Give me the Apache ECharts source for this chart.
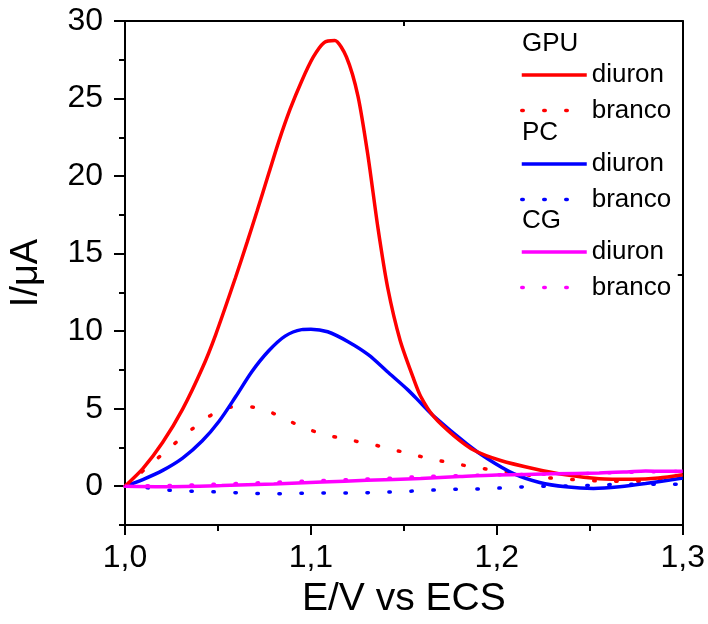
<!DOCTYPE html>
<html>
<head>
<meta charset="utf-8">
<script src="https://cdn.jsdelivr.net/npm/echarts@6/dist/echarts.min.js"></script>
<style>html,body{margin:0;padding:0;background:#fff;}#c{width:708px;height:624px;}</style>
</head>
<body>
<div id="c"></div>
<script>
// ---- data ----
const xTicks = [1.0, 1.1, 1.2, 1.3];
const yTicks = [0, 5, 10, 15, 20, 25, 30];

const gpuDiuronX = [1.000,1.0096,1.0203,1.031,1.0416,1.0487,1.0594,1.0657,1.071,1.0773,1.0826,1.0888,1.095,1.1013,1.1071,1.1128,1.1191,1.1253,1.1307,1.136,1.1413,1.148,1.155,1.159,1.166,1.177,1.188,1.202,1.220,1.237,1.255,1.273,1.287,1.300];
const gpuDiuronY = [0.0,1.13,2.83,4.97,7.62,9.75,13.44,15.74,17.73,20.16,22.19,24.31,26.12,27.68,28.61,28.74,27.68,25.16,21.3,16.7,12.8,9.4,7.0,5.8,4.5,3.25,2.3,1.66,1.13,0.74,0.49,0.45,0.53,0.74];

const pcDiuronX = [1.000,1.0096,1.0203,1.031,1.0416,1.0506,1.0594,1.0683,1.0772,1.0861,1.095,1.100,1.109,1.120,1.131,1.141,1.152,1.159,1.166,1.184,1.195,1.209,1.223,1.237,1.252,1.266,1.280,1.300];
const pcDiuronY = [0.0,0.43,1.02,1.81,2.93,4.19,5.75,7.4,8.72,9.68,10.1,10.13,9.96,9.32,8.47,7.4,6.23,5.38,4.53,2.72,1.77,0.81,0.24,-0.04,-0.15,-0.04,0.17,0.53];

const gpuBrancoX = [1.000,1.012,1.024,1.036,1.048,1.060,1.072,1.084,1.096,1.108,1.120,1.132,1.143,1.155,1.167,1.179,1.191,1.203,1.215,1.227,1.239,1.251,1.262,1.275,1.286,1.299];
const gpuBrancoY = [0.0,1.23,2.47,3.68,4.7,5.15,5.04,4.47,3.78,3.32,3.0,2.72,2.4,2.03,1.7,1.42,1.17,0.96,0.75,0.55,0.45,0.36,0.32,0.32,0.36,0.6];

const pcBrancoX = [1.000,1.012,1.024,1.036,1.048,1.060,1.072,1.084,1.096,1.108,1.120,1.132,1.143,1.155,1.167,1.179,1.191,1.203,1.215,1.227,1.239,1.251,1.262,1.275,1.286,1.299];
const pcBrancoY = [0.0,-0.1,-0.26,-0.32,-0.36,-0.42,-0.47,-0.49,-0.45,-0.43,-0.43,-0.41,-0.37,-0.31,-0.24,-0.19,-0.17,-0.11,-0.04,0.0,0.02,0.06,0.11,0.13,0.13,0.13];

const cgDiuronX = [1.000,1.020,1.052,1.080,1.106,1.130,1.159,1.180,1.200,1.230,1.255,1.270,1.280,1.290,1.300];
const cgDiuronY = [0.0,-0.03,0.04,0.15,0.27,0.38,0.5,0.62,0.72,0.8,0.85,0.92,0.98,0.96,0.97];

const cgBrancoX = [1.000,1.024,1.047,1.072,1.096,1.120,1.143,1.155,1.179,1.203,1.227,1.251,1.262,1.286,1.299];
const cgBrancoY = [0.0,0.05,0.12,0.22,0.32,0.42,0.52,0.6,0.68,0.74,0.78,0.82,0.87,0.94,0.95];

const groups = ['GPU', 'PC', 'CG'];
const subLabels = ['diuron', 'branco'];

// ---- build ----
const FONT = 'Liberation Sans, Arial, sans-serif';
const zip = (xs, ys) => xs.map((x, i) => [x, ys[i]]);
const RED = '#ff0000', BLUE = '#0000ff', MAG = '#ff00ff';
const solid = c => ({ color: c, width: 3.5, type: 'solid' });
const dotted = c => ({ color: c, width: 3.5, type: [1.5, 20.5], cap: 'round' });

function mk(name, xs, ys, ls, z, sm) {
  return {
    name: name, type: 'line', data: zip(xs, ys), showSymbol: false, symbol: 'none',
    smooth: sm, lineStyle: ls, itemStyle: { color: ls.color }, z: z,
    xAxisIndex: 0, yAxisIndex: 0, animation: false
  };
}

const series = [
  mk('PC branco', pcBrancoX, pcBrancoY, dotted(BLUE), 2, 0.3),
  mk('GPU branco', gpuBrancoX, gpuBrancoY, dotted(RED), 2, 0.3),
  mk('CG branco', cgBrancoX, cgBrancoY, dotted(MAG), 2, 0.3),
  mk('PC diuron', pcDiuronX, pcDiuronY, solid(BLUE), 3, 0.3),
  mk('GPU diuron', gpuDiuronX, gpuDiuronY, solid(RED), 4, 0.25),
  mk('CG diuron', cgDiuronX, cgDiuronY, solid(MAG), 5, 0.3)
];

const legendTops = [62, 151, 239];
const headerTops = [44, 133, 221];
const legends = groups.map((g, i) => ({
  orient: 'vertical', left: 520, top: legendTops[i], padding: 0,
  itemWidth: 65, itemHeight: 20, itemGap: 9.5, selectedMode: false,
  data: subLabels.map(s => g + ' ' + s),
  formatter: n => n.split(' ')[1],
  textStyle: { fontFamily: FONT, fontSize: 26, color: '#000', lineHeight: 20 },
  itemStyle: { color: 'rgba(0,0,0,0)', borderWidth: 0, opacity: 0 },
  lineStyle: { width: 3.5 }
}));

const axisLineStyle = { color: '#000', width: 2 };
const fmtX = v => v.toFixed(1).replace('.', ',');

const option = {
  animation: false,
  backgroundColor: '#fff',
  grid: { left: 122, right: 24, top: 21, bottom: 94, containLabel: false },
  xAxis: [
    {
      type: 'value', position: 'bottom', min: 1.0, max: 1.3, interval: 0.1,
      axisLine: { show: true, onZero: false, lineStyle: axisLineStyle },
      axisTick: { show: true, inside: false, length: 10, lineStyle: { color: '#000', width: 2 }, customValues: xTicks },
      minorTick: { show: true, splitNumber: 2, length: 6, lineStyle: { color: '#000', width: 2 } },
      axisLabel: { fontFamily: FONT, fontSize: 32, color: '#000', margin: 17, formatter: fmtX, customValues: xTicks },
      splitLine: { show: false },
      name: 'E/V vs ECS', nameLocation: 'middle', nameGap: 55,
      nameTextStyle: { fontFamily: FONT, fontSize: 39, color: '#000' }
    },
    {
      type: 'value', position: 'top', min: 1.0, max: 1.3,
      axisLine: { show: true, onZero: false, lineStyle: axisLineStyle },
      axisTick: { show: true, inside: true, length: 5, lineStyle: { color: '#000', width: 2 }, customValues: [1.15] },
      axisLabel: { show: false }, splitLine: { show: false }
    }
  ],
  yAxis: [
    {
      type: 'value', position: 'left', min: -2.5, max: 30, interval: 2.5,
      axisLine: { show: true, onZero: false, lineStyle: axisLineStyle },
      axisTick: { show: true, inside: false, length: 11, lineStyle: { color: '#000', width: 2 }, customValues: yTicks },
      axisLabel: { fontFamily: FONT, fontSize: 32, color: '#000', margin: 22, customValues: yTicks },
      splitLine: { show: false },
      name: 'I/μA', nameLocation: 'middle', nameGap: 79, nameRotate: 90,
      nameTextStyle: { fontFamily: FONT, fontSize: 38, color: '#000' }
    },
    {
      type: 'value', position: 'left', min: -2.5, max: 30, interval: 2.5,
      axisLine: { show: false, onZero: false },
      axisTick: { show: true, inside: false, length: 6, lineStyle: { color: '#000', width: 2 } },
      axisLabel: { show: false }, splitLine: { show: false }
    },
    {
      type: 'value', position: 'right', min: -2.5, max: 30,
      axisLine: { show: true, onZero: false, lineStyle: axisLineStyle },
      axisTick: { show: true, inside: true, length: 5, lineStyle: { color: '#000', width: 2 }, customValues: [13.65] },
      axisLabel: { show: false }, splitLine: { show: false }
    }
  ],
  legend: legends,
  graphic: groups.map((g, i) => ({
    type: 'text', left: 522, top: headerTops[i] - 13,
    style: { text: g, fontFamily: FONT, fontSize: 26, fill: '#000' }
  })),
  series: series
};

const chart = echarts.init(document.getElementById('c'), null, { renderer: 'canvas' });
chart.setOption(option);
</script>
</body>
</html>
